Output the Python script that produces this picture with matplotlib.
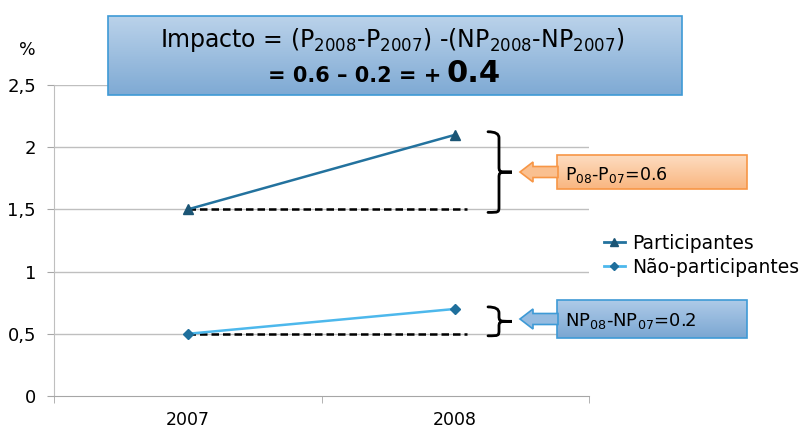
import matplotlib
matplotlib.use('Agg')
import matplotlib.pyplot as plt
import numpy as np
from matplotlib.path import Path
from matplotlib.patches import PathPatch, Rectangle, Polygon
from matplotlib.colors import LinearSegmentedColormap
from matplotlib.lines import Line2D

plt.rcParams['font.family'] = ['DejaVu Sans']

years = ['2007', '2008']
participantes = [1.5, 2.1]
nao_participantes = [0.5, 0.7]
y_ticks = [0, 0.5, 1, 1.5, 2, 2.5]
y_labels = ['0', '0,5', '1', '1,5', '2', '2,5']
diff_p = '0.6'
diff_np = '0.2'
impacto = '0.4'

W, H = 810, 430
fig = plt.figure(figsize=(W / 100, H / 100), dpi=100)
ax = fig.add_axes([54 / W, 1 - 396 / H, (589 - 54) / W, (396 - 85) / H])

x = np.arange(len(years))
ax.plot(x, participantes, color='#23729E', lw=1.8, marker='^', ms=7,
        mfc='#1B5575', mec='#1B5575', zorder=3)
ax.plot(x, nao_participantes, color='#4DB8EC', lw=1.8, marker='D', ms=5,
        mfc='#1F6F9C', mec='#1F6F9C', zorder=3)

# reference lines: no change since 2007
ax.hlines([participantes[0], nao_participantes[0]], 0, 1.045, colors='black',
          linestyles=(0, (3, 1.6)), lw=1.8, zorder=2)

ax.set_xlim(-0.5, 1.5)
ax.set_ylim(0, 2.5)
ax.set_yticks(y_ticks)
ax.set_yticklabels(y_labels)
ax.set_xticks(x)
ax.set_xticklabels(years)
ax.set_xticks([-0.5, 0.5, 1.5], minor=True)
ax.tick_params(axis='x', which='major', length=0, pad=11, labelsize=12.5)
ax.tick_params(axis='x', which='minor', length=5, color='#A6A6A6')
ax.tick_params(axis='y', length=5, color='#A6A6A6', pad=8, labelsize=13)
ax.yaxis.grid(True, color='#BFBFBF', lw=1)
ax.get_ygridlines()[0].set_visible(False)
for s in ['top', 'right']:
    ax.spines[s].set_visible(False)
ax.spines['left'].set_color('#BFBFBF')
ax.spines['bottom'].set_color('#A6A6A6')
fig.text(27 / W, 1 - 50 / H, '%', fontsize=12.5, ha='center', va='center')

# legend
handles = [Line2D([], [], color='#23729E', lw=2, marker='^', ms=6, mfc='#1B5575', mec='#1B5575'),
           Line2D([], [], color='#4DB8EC', lw=2, marker='D', ms=4, mfc='#1F6F9C', mec='#1F6F9C')]
fig.legend(handles, ['Participantes', 'Não-participantes'], loc='upper left',
           bbox_to_anchor=(604 / W, 1 - 234 / H), frameon=False, fontsize=13.5,
           handlelength=1.1, handletextpad=0.4, labelspacing=0.25, borderpad=0,
           borderaxespad=0)

# overlay in pixel coordinates for the callouts
ov = fig.add_axes([0, 0, 1, 1], zorder=5)
ov.set_xlim(0, W)
ov.set_ylim(0, H)
ov.axis('off')


def to_px(v):
    return ax.transData.transform((0, v))[1]


def grad_box(x0, y0, x1, y1, c_top, c_bot, edge):
    cmap = LinearSegmentedColormap.from_list('g', [c_bot, c_top])
    g = np.linspace(0, 1, 64).reshape(-1, 1)
    ov.imshow(g, extent=[x0, x1, H - y1, H - y0], origin='lower', cmap=cmap,
              aspect='auto', zorder=1)
    ov.add_patch(Rectangle((x0, H - y1), x1 - x0, y1 - y0, fill=False,
                           ec=edge, lw=1.2, zorder=2))


def arrow(tip_x, yc, base_x, fc, ec):
    yb = H - yc
    pts = [(tip_x, yb), (tip_x + 13, yb + 10), (tip_x + 13, yb + 5.5),
           (base_x, yb + 5.5), (base_x, yb - 5.5), (tip_x + 13, yb - 5.5),
           (tip_x + 13, yb - 10)]
    ov.add_patch(Polygon(pts, closed=True, fc=fc, ec=ec, lw=1.2, zorder=3))


def brace(x0, top, bottom):
    xm, xt = x0 + 11, x0 + 24
    mid = (top + bottom) / 2
    r = min(6, (top - bottom) / 4)
    verts = [(x0, top), (xm, top), (xm, top - r),
             (xm, mid + r),
             (xm, mid), (xm, mid), (xt, mid),
             (xm, mid), (xm, mid), (xm, mid - r),
             (xm, bottom + r),
             (xm, bottom), (xm, bottom), (x0, bottom)]
    codes = [Path.MOVETO, Path.CURVE3, Path.CURVE3, Path.LINETO,
             Path.CURVE4, Path.CURVE4, Path.CURVE4,
             Path.CURVE4, Path.CURVE4, Path.CURVE4,
             Path.LINETO, Path.CURVE4, Path.CURVE4, Path.CURVE4]
    ov.add_patch(PathPatch(Path(verts, codes), fill=False, ec='black', lw=2,
                           capstyle='round', zorder=3))


brace(488, to_px(participantes[1]) + 3, to_px(participantes[0]) - 3)
brace(488, to_px(nao_participantes[1]) + 2, to_px(nao_participantes[0]) - 2)

# top formula box
grad_box(108, 16, 682, 95, '#BAD2EA', '#7FAAD4', '#3E9AD6')
ov.text(392, H - 47, r'Impacto = (P$_{2008}$-P$_{2007}$) -(NP$_{2008}$-NP$_{2007}$)',
        fontsize=17, ha='center', va='baseline', zorder=4)
ov.text(441, H - 82, '= ' + diff_p + ' – ' + diff_np + ' = +', fontsize=15,
        fontweight='bold', ha='right', va='baseline', zorder=4)
ov.text(446, H - 82, impacto, fontsize=22, fontweight='bold', ha='left',
        va='baseline', zorder=4)

# participantes callout
arrow(520, 172, 558, '#FAC090', '#F79646')
grad_box(557, 155, 747, 189, '#FDDCC0', '#F9B680', '#F79646')
ov.text(565, H - 180, 'P$_{08}$-P$_{07}$=' + diff_p, fontsize=12.5,
        ha='left', va='baseline', zorder=4)

# nao-participantes callout
arrow(520, 319, 558, '#95BBE0', '#3E9AD6')
grad_box(557, 300, 747, 338, '#AECBE8', '#7BA6D2', '#3E9AD6')
ov.text(565, H - 326, 'NP$_{08}$-NP$_{07}$=' + diff_np, fontsize=13,
        ha='left', va='baseline', zorder=4)

fig.savefig('out.png', dpi=100)
